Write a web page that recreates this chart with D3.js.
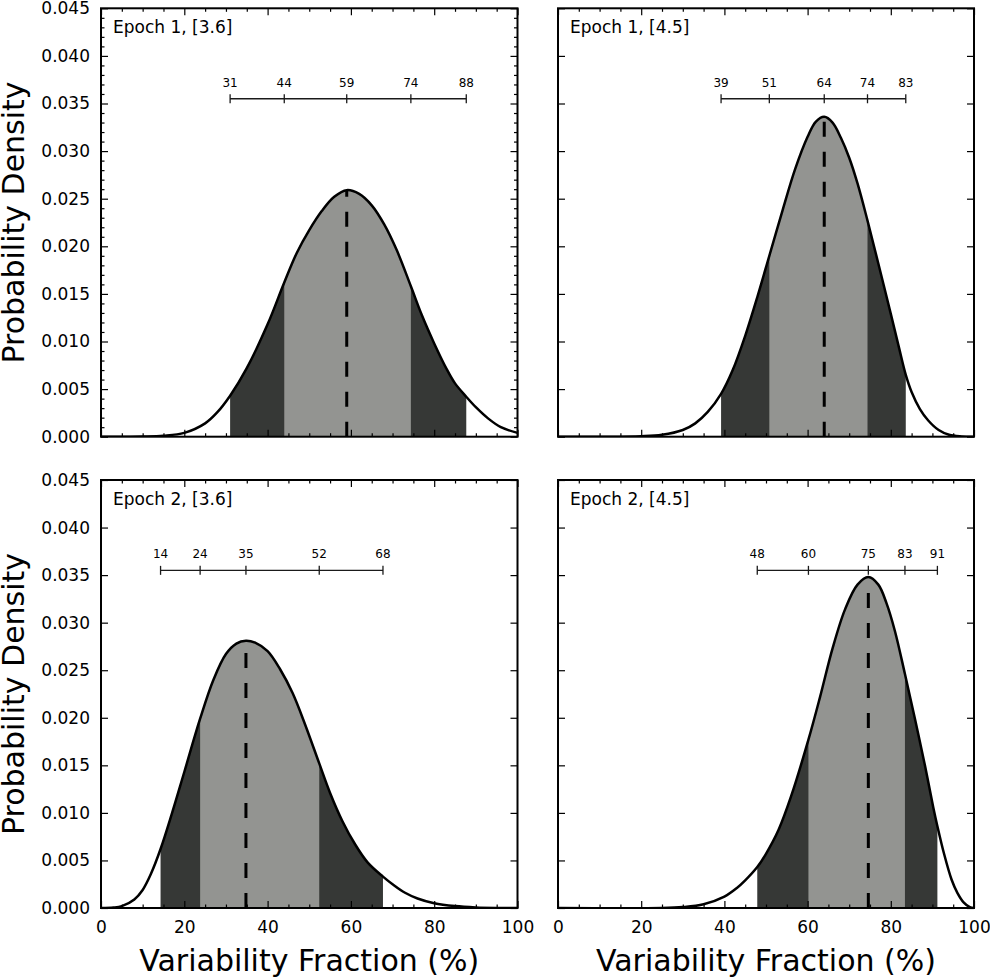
<!DOCTYPE html>
<html>
<head>
<meta charset="utf-8">
<script src="https://cdn.jsdelivr.net/npm/d3@7"></script>
<style>
  body { margin: 0; background: #fff; }
  text { font-family: "DejaVu Sans", sans-serif; }
</style>
</head>
<body>
<div id="chart"></div>
<script>
// panel titles
const titles = ["Epoch 1, [3.6]", "Epoch 1, [4.5]", "Epoch 2, [3.6]", "Epoch 2, [4.5]"];

// interval edges (outer low, inner low, median, inner high, outer high)
const bounds = [
  [31.0, 44.0, 59.0, 74.4, 87.7],
  [39.2, 50.8, 64.0, 74.4, 83.6],
  [14.3, 23.8, 34.8, 52.4, 67.7],
  [47.9, 60.2, 74.6, 83.4, 91.2]
];
// numbers printed above the bars
const boundLabels = [
  [31, 44, 59, 74, 88],
  [39, 51, 64, 74, 83],
  [14, 24, 35, 52, 68],
  [48, 60, 75, 83, 91]
];

// density curves (x in %, probability density)
const e1s1X = [0, 5, 10, 15, 20, 25, 28, 31, 35, 40, 44, 47, 50, 53, 56, 59, 62, 65, 68, 71, 74.4, 77, 80, 83, 85, 87.7, 90, 93, 96, 100];
const e1s1Y = [0, 0, 0.00002, 0.0001, 0.0004, 0.0014, 0.0026, 0.0043, 0.0072, 0.0118, 0.0162, 0.0193, 0.0217, 0.0237,
  0.0252, 0.0259, 0.0255, 0.0243, 0.0223, 0.0196, 0.0158, 0.0128, 0.0098, 0.0071, 0.0056, 0.0042, 0.0031, 0.0019, 0.0010, 0.0004];

const e1s2X = [0, 10, 20, 25, 30, 33, 36, 39.2, 42, 45, 48, 50.8, 54, 57, 60, 62, 64, 66, 68, 70, 72, 74.4, 77, 80, 82, 83.6, 85, 87, 89, 91.5, 94, 97, 100];
const e1s2Y = [0, 0, 0.00005, 0.0002, 0.0007, 0.0014, 0.0026, 0.0045, 0.0070, 0.0106, 0.0148, 0.0190, 0.0238, 0.0281,
  0.0315, 0.0331, 0.0336, 0.0330, 0.0314, 0.0293, 0.0266, 0.0227, 0.0182, 0.0129, 0.0093, 0.0065, 0.0047, 0.0029, 0.0017,
  0.0007, 0.0002, 0.00003, 0];

const e2s1X = [0, 3, 5, 8, 10, 12, 14.3, 17, 20, 23.8, 27, 30, 32.5, 34.8, 37, 40, 43, 46, 49, 52.4, 55, 58, 61, 64, 67.7, 70, 73, 76, 80, 85, 90, 95, 100];
const e2s1Y = [0, 0.00005, 0.0002, 0.0009, 0.0019, 0.0036, 0.0062, 0.0099, 0.0143, 0.0199, 0.0240, 0.0267, 0.0278,
  0.0281, 0.0279, 0.0270, 0.0251, 0.0226, 0.0193, 0.0152, 0.0121, 0.0091, 0.0067, 0.0048, 0.0033, 0.0025, 0.0016,
  0.0010, 0.0005, 0.0002, 0.00006, 0.00001, 0];

const e2s2X = [0, 25, 30, 35, 40, 43, 45, 47.9, 50, 53, 56, 60.2, 63, 66, 69, 72, 74.6, 77, 79, 81, 83.4, 85.8, 88.2, 90.2, 91.2, 92.8, 94.6, 96, 97.5, 99, 100];
const e2s2Y = [0, 0, 0.0001, 0.0004, 0.0012, 0.0021, 0.0029, 0.0043, 0.0057, 0.0082, 0.0117, 0.0177, 0.0222, 0.0273,
  0.0314, 0.0340, 0.0348, 0.0340, 0.0320, 0.0291, 0.0246, 0.0199, 0.0150, 0.0106, 0.0086, 0.0057, 0.0030, 0.0016,
  0.0006, 0.0001, 0];

const curvesX = [e1s1X, e1s2X, e2s1X, e2s2X];
const curvesY = [e1s1Y, e1s2Y, e2s1Y, e2s2Y];

// tick values
const xMajor = [0, 20, 40, 60, 80, 100];
const xMinor = [5, 10, 15, 25, 30, 35, 45, 50, 55, 65, 70, 75, 85, 90, 95];
const yMajor = [0, 0.005, 0.010, 0.015, 0.020, 0.025, 0.030, 0.035, 0.040, 0.045];
const barLevel = 0.0355;

const dark = "#363836";
const light = "#939491";

const width = 990;
const height = 980;
const cols = [{ x0: 101, x1: 517.5 }, { x0: 558, x1: 974 }];
const rows = [{ y0: 8.3, y1: 436.7 }, { y0: 480, y1: 908 }];

const svg = d3.select("#chart")
  .append("svg")
  .attr("width", width)
  .attr("height", height)
  .style("display", "block");

const styleAxis = (g) => {
  g.select(".domain").remove();
  g.selectAll(".tick line").attr("stroke", "#000").attr("stroke-width", 1.2);
  g.attr("font-family", "DejaVu Sans, sans-serif").attr("font-size", 17);
  g.selectAll(".tick text").attr("fill", "#000");
};

const smooth = d3.curveCatmullRom.alpha(0.5);

titles.forEach((title, i) => {
  const c = cols[i % 2];
  const r = rows[Math.floor(i / 2)];
  const isLeft = i % 2 === 0;
  const isBottom = i >= 2;

  const x = d3.scaleLinear().domain([0, 100]).range([c.x0, c.x1]);
  const y = d3.scaleLinear().domain([0, 0.045]).range([r.y1, r.y0]);

  const pts = curvesX[i].map((v, j) => [v, curvesY[i][j]]);
  const area = d3.area()
    .x((d) => x(d[0]))
    .y0(y(0))
    .y1((d) => y(d[1]))
    .curve(smooth);
  const line = d3.line()
    .x((d) => x(d[0]))
    .y((d) => y(d[1]))
    .curve(smooth);

  // keep everything inside the frame
  const frameId = `frame${i}`;
  svg.append("clipPath").attr("id", frameId)
    .append("rect")
    .attr("x", c.x0).attr("y", r.y0)
    .attr("width", c.x1 - c.x0).attr("height", r.y1 - r.y0);

  const g = svg.append("g").attr("clip-path", `url(#${frameId})`);
  const b = bounds[i];

  // shaded intervals: outer dark, inner light
  [[b[0], b[4], dark], [b[1], b[3], light]].forEach(([lo, hi, col], k) => {
    const id = `clip${i}_${k}`;
    svg.append("clipPath").attr("id", id)
      .append("rect")
      .attr("x", x(lo))
      .attr("y", r.y0)
      .attr("width", x(hi) - x(lo))
      .attr("height", r.y1 - r.y0);
    g.append("path")
      .datum(pts)
      .attr("d", area)
      .attr("fill", col)
      .attr("clip-path", `url(#${id})`);
  });

  // median dashed line
  const med = b[2];
  const peak = curvesY[i][curvesX[i].indexOf(med)];
  g.append("line")
    .attr("x1", x(med)).attr("x2", x(med))
    .attr("y1", y(0)).attr("y2", y(peak))
    .attr("stroke", "#000")
    .attr("stroke-width", 3)
    .attr("stroke-dasharray", "15,15");

  // density curve
  g.append("path")
    .datum(pts)
    .attr("d", line)
    .attr("fill", "none")
    .attr("stroke", "#000")
    .attr("stroke-width", 2.5);

  // interval bar with labels
  const yb = y(barLevel);
  g.append("line")
    .attr("x1", x(b[0])).attr("x2", x(b[4]))
    .attr("y1", yb).attr("y2", yb)
    .attr("stroke", "#1a1a1a")
    .attr("stroke-width", 1.3);
  g.selectAll(".cap")
    .data(b)
    .join("line")
    .attr("x1", (d) => x(d)).attr("x2", (d) => x(d))
    .attr("y1", yb - 4.5).attr("y2", yb + 4.5)
    .attr("stroke", "#1a1a1a")
    .attr("stroke-width", 1.3);
  g.selectAll(".blab")
    .data(b)
    .join("text")
    .attr("x", (d) => x(d))
    .attr("y", yb - 12)
    .attr("text-anchor", "middle")
    .attr("font-size", 12)
    .attr("fill", "#000")
    .text((d, j) => boundLabels[i][j]);

  // panel title
  g.append("text")
    .attr("x", c.x0 + 12)
    .attr("y", r.y0 + 25)
    .attr("font-size", 17)
    .attr("fill", "#000")
    .text(title);

  // x axes (bottom + top), ticks inward
  svg.append("g")
    .attr("transform", `translate(0,${r.y1})`)
    .call(d3.axisBottom(x).tickValues(xMajor).tickSize(-7).tickPadding(12.5)
      .tickFormat(isBottom ? d3.format("d") : () => ""))
    .call(styleAxis);
  svg.append("g")
    .attr("transform", `translate(0,${r.y1})`)
    .call(d3.axisBottom(x).tickValues(xMinor).tickSize(-3.5).tickFormat(() => ""))
    .call(styleAxis);
  svg.append("g")
    .attr("transform", `translate(0,${r.y0})`)
    .call(d3.axisTop(x).tickValues(xMajor).tickSize(-7).tickFormat(() => ""))
    .call(styleAxis);
  svg.append("g")
    .attr("transform", `translate(0,${r.y0})`)
    .call(d3.axisTop(x).tickValues(xMinor).tickSize(-3.5).tickFormat(() => ""))
    .call(styleAxis);

  // y axes (left + right)
  svg.append("g")
    .attr("transform", `translate(${c.x0},0)`)
    .call(d3.axisLeft(y).tickValues(yMajor).tickSize(-7).tickPadding(11)
      .tickFormat(isLeft ? d3.format(".3f") : () => ""))
    .call(styleAxis);
  svg.append("g")
    .attr("transform", `translate(${c.x1},0)`)
    .call(d3.axisRight(y).tickValues(yMajor).tickSize(-7).tickFormat(() => ""))
    .call(styleAxis);

  // only the first panel carries minor y ticks
  if (i === 0) {
    const yMinor = d3.range(1, 45).filter((k) => k % 5 !== 0).map((k) => k / 1000);
    svg.append("g")
      .attr("transform", `translate(${c.x0},0)`)
      .call(d3.axisLeft(y).tickValues(yMinor).tickSize(-3.5).tickFormat(() => ""))
      .call(styleAxis);
    svg.append("g")
      .attr("transform", `translate(${c.x1},0)`)
      .call(d3.axisRight(y).tickValues(yMinor).tickSize(-3.5).tickFormat(() => ""))
      .call(styleAxis);
  }

  // frame
  svg.append("rect")
    .attr("x", c.x0).attr("y", r.y0)
    .attr("width", c.x1 - c.x0).attr("height", r.y1 - r.y0)
    .attr("fill", "none")
    .attr("stroke", "#000")
    .attr("stroke-width", 2);

  // axis titles
  if (isLeft) {
    svg.append("text")
      .attr("transform", `translate(24,${(r.y0 + r.y1) / 2}) rotate(-90)`)
      .attr("text-anchor", "middle")
      .attr("font-size", 30)
      .attr("fill", "#000")
      .text("Probability Density");
  }
  if (isBottom) {
    svg.append("text")
      .attr("x", (c.x0 + c.x1) / 2)
      .attr("y", 971)
      .attr("text-anchor", "middle")
      .attr("font-size", 30)
      .attr("fill", "#000")
      .text("Variability Fraction (%)");
  }
});
</script>
</body>
</html>
